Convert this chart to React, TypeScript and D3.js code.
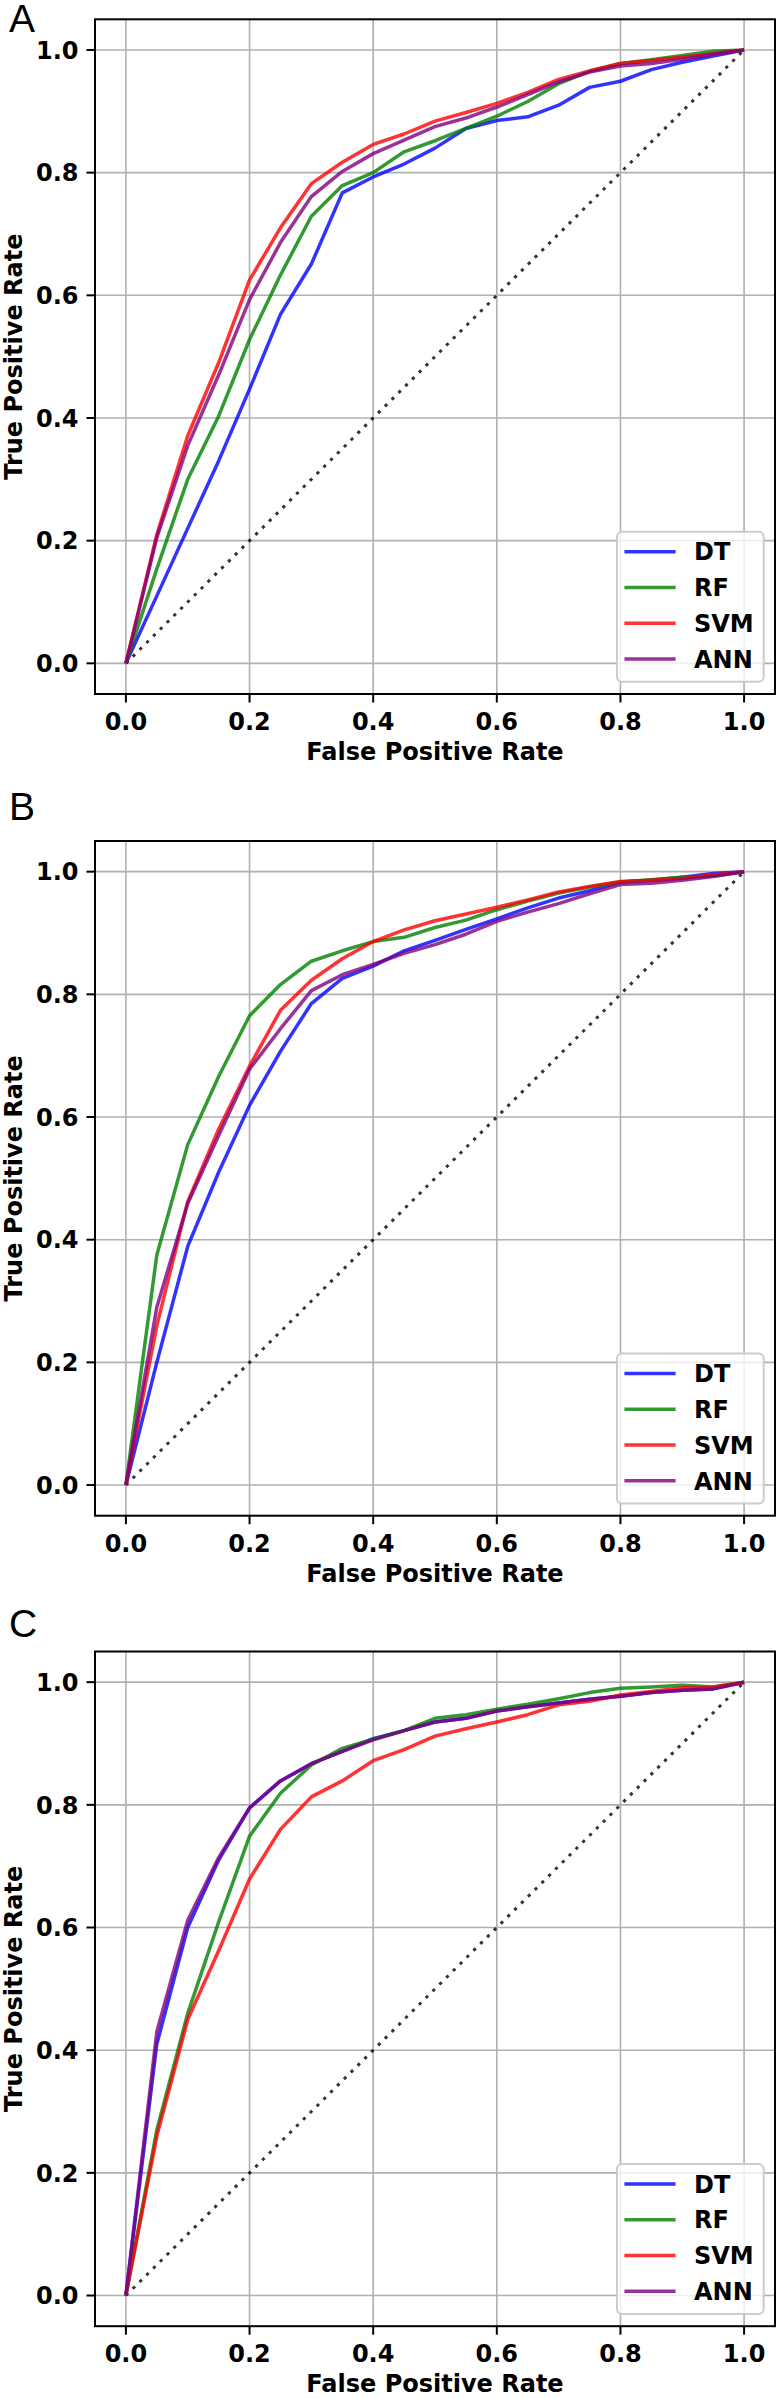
import React from "react";
import * as d3 from "d3";

// ROC curves sampled every 0.05 of false positive rate
const FPR = [0, 0.05, 0.1, 0.15, 0.2, 0.25, 0.3, 0.35, 0.4, 0.45, 0.5, 0.55, 0.6, 0.65, 0.7, 0.75, 0.8, 0.85, 0.9, 0.95, 1.0];

const MODELS = ["DT", "RF", "SVM", "ANN"];
const COLORS = ["#0000ff", "#008000", "#ff0000", "#800080"];

const A_DT = [0, 0.11, 0.22, 0.33, 0.447, 0.569, 0.651, 0.767, 0.793, 0.814, 0.84, 0.872, 0.885, 0.891, 0.91, 0.939, 0.949, 0.968, 0.98, 0.99, 1.0];
const A_RF = [0, 0.154, 0.3, 0.403, 0.528, 0.633, 0.729, 0.779, 0.8, 0.834, 0.852, 0.872, 0.892, 0.916, 0.945, 0.965, 0.978, 0.984, 0.991, 0.998, 1.0];
const A_SVM = [0, 0.21, 0.371, 0.49, 0.625, 0.71, 0.782, 0.817, 0.846, 0.863, 0.884, 0.898, 0.913, 0.931, 0.952, 0.966, 0.978, 0.983, 0.988, 0.994, 1.0];
const A_ANN = [0, 0.205, 0.355, 0.47, 0.593, 0.686, 0.761, 0.802, 0.831, 0.853, 0.875, 0.889, 0.907, 0.927, 0.948, 0.964, 0.974, 0.978, 0.985, 0.993, 1.0];

const B_DT = [0, 0.2, 0.389, 0.51, 0.619, 0.707, 0.785, 0.826, 0.846, 0.871, 0.888, 0.906, 0.923, 0.941, 0.957, 0.969, 0.983, 0.986, 0.991, 0.997, 1.0];
const B_RF = [0, 0.375, 0.555, 0.666, 0.765, 0.816, 0.854, 0.871, 0.886, 0.893, 0.909, 0.921, 0.938, 0.952, 0.965, 0.975, 0.983, 0.987, 0.991, 0.993, 1.0];
const B_SVM = [0, 0.26, 0.462, 0.58, 0.683, 0.774, 0.823, 0.858, 0.886, 0.905, 0.92, 0.931, 0.942, 0.954, 0.967, 0.976, 0.984, 0.986, 0.989, 0.995, 1.0];
const B_ANN = [0, 0.29, 0.459, 0.57, 0.678, 0.744, 0.806, 0.832, 0.849, 0.867, 0.881, 0.898, 0.919, 0.934, 0.948, 0.964, 0.979, 0.981, 0.986, 0.992, 1.0];

const C_DT = [0, 0.41, 0.6, 0.71, 0.795, 0.839, 0.867, 0.887, 0.908, 0.921, 0.935, 0.941, 0.953, 0.96, 0.966, 0.972, 0.977, 0.983, 0.987, 0.989, 1.0];
const C_RF = [0, 0.27, 0.46, 0.609, 0.749, 0.819, 0.865, 0.892, 0.907, 0.921, 0.941, 0.947, 0.956, 0.964, 0.973, 0.983, 0.99, 0.992, 0.995, 0.992, 1.0];
const C_SVM = [0, 0.26, 0.45, 0.562, 0.679, 0.76, 0.813, 0.839, 0.872, 0.89, 0.912, 0.924, 0.935, 0.947, 0.963, 0.969, 0.979, 0.985, 0.991, 0.992, 1.0];
const C_ANN = [0, 0.43, 0.612, 0.714, 0.795, 0.839, 0.867, 0.887, 0.906, 0.921, 0.935, 0.941, 0.953, 0.96, 0.966, 0.972, 0.977, 0.983, 0.987, 0.989, 1.0];

const TICKS = [0, 0.2, 0.4, 0.6, 0.8, 1.0];
const PANEL_LABELS = ["A", "B", "C"];
const PANEL_SERIES = [
  [A_DT, A_RF, A_SVM, A_ANN],
  [B_DT, B_RF, B_SVM, B_ANN],
  [C_DT, C_RF, C_SVM, C_ANN],
];

const W = 778;
const H = 2398;
const FONT = "'DejaVu Sans', sans-serif";
const FS = 24;

// frame placement of each stacked panel
const PANEL_TOPS = [19.3, 841, 1651.5];
const LETTER_BASE = [32, 820, 1637];
const FRAME_LEFT = 95;
const FRAME_W = 680;
const FRAME_H = 674.7;

const fmt = d3.format(".1f");

function Panel({ index }: { index: number }) {
  const top = PANEL_TOPS[index];
  const bottom = top + FRAME_H;
  const right = FRAME_LEFT + FRAME_W;
  const x = d3.scaleLinear().domain([-0.05, 1.05]).range([FRAME_LEFT, right]);
  const y = d3.scaleLinear().domain([-0.05, 1.05]).range([bottom, top]);
  const line = d3
    .line<number>()
    .x((_, i) => x(FPR[i]))
    .y((d) => y(d));

  const series = PANEL_SERIES[index];

  // legend box, anchored in the lower right corner
  const legW = 146.7;
  const legH = 150;
  const legX = right - 11.3 - legW;
  const legY = bottom - 12.3 - legH;

  return (
    <g>
      <text x={9} y={LETTER_BASE[index]} fontFamily="'Liberation Sans', sans-serif" fontSize={39}>
        {PANEL_LABELS[index]}
      </text>

      {/* grid */}
      {TICKS.map((t) => (
        <line key={"gx" + t} x1={x(t)} x2={x(t)} y1={top} y2={bottom} stroke="#b0b0b0" strokeWidth={1.6} />
      ))}
      {TICKS.map((t) => (
        <line key={"gy" + t} x1={FRAME_LEFT} x2={right} y1={y(t)} y2={y(t)} stroke="#b0b0b0" strokeWidth={1.6} />
      ))}

      {/* chance diagonal */}
      <line
        x1={x(0)}
        y1={y(0)}
        x2={x(1)}
        y2={y(1)}
        stroke="#000"
        strokeOpacity={0.8}
        strokeWidth={3}
        strokeDasharray="3.2 6.4"
      />

      {series.map((vals, i) => (
        <path
          key={MODELS[i]}
          d={line(vals) || ""}
          fill="none"
          stroke={COLORS[i]}
          strokeOpacity={0.8}
          strokeWidth={3.5}
          strokeLinejoin="round"
        />
      ))}

      {/* frame */}
      <rect x={FRAME_LEFT} y={top} width={FRAME_W} height={FRAME_H} fill="none" stroke="#000" strokeWidth={2} />

      {/* ticks */}
      {TICKS.map((t) => (
        <g key={"tx" + t}>
          <line x1={x(t)} x2={x(t)} y1={bottom} y2={bottom + 8.5} stroke="#000" strokeWidth={2} />
          <text
            x={x(t)}
            y={bottom + 36}
            textAnchor="middle"
            fontFamily={FONT}
            fontWeight="bold"
            fontSize={FS}
          >
            {fmt(t)}
          </text>
        </g>
      ))}
      {TICKS.map((t) => (
        <g key={"ty" + t}>
          <line x1={FRAME_LEFT - 8.5} x2={FRAME_LEFT} y1={y(t)} y2={y(t)} stroke="#000" strokeWidth={2} />
          <text
            x={78.5}
            y={y(t) + 8.7}
            textAnchor="end"
            fontFamily={FONT}
            fontWeight="bold"
            fontSize={FS}
          >
            {fmt(t)}
          </text>
        </g>
      ))}

      <text
        x={(FRAME_LEFT + right) / 2}
        y={bottom + 66}
        textAnchor="middle"
        fontFamily={FONT}
        fontWeight="bold"
        fontSize={FS}
      >
        False Positive Rate
      </text>
      <text
        transform={`translate(21.5, ${(top + bottom) / 2}) rotate(-90)`}
        textAnchor="middle"
        fontFamily={FONT}
        fontWeight="bold"
        fontSize={FS}
      >
        True Positive Rate
      </text>

      {/* legend */}
      <rect
        x={legX}
        y={legY}
        width={legW}
        height={legH}
        rx={5}
        fill="#fff"
        fillOpacity={0.8}
        stroke="#cccccc"
        strokeWidth={2}
      />
      {MODELS.map((m, i) => {
        const ly = legY + 20 + i * 35.8;
        return (
          <g key={"lg" + m}>
            <line
              x1={legX + 7.4}
              x2={legX + 58.6}
              y1={ly}
              y2={ly}
              stroke={COLORS[i]}
              strokeOpacity={0.8}
              strokeWidth={3.5}
            />
            <text x={legX + 77} y={ly + 8.7} fontFamily={FONT} fontWeight="bold" fontSize={FS}>
              {m}
            </text>
          </g>
        );
      })}
    </g>
  );
}

export default function App() {
  return (
    <svg
      width={W}
      height={H}
      viewBox={`0 0 ${W} ${H}`}
      style={{ position: "absolute", left: 0, top: 0, background: "#fff" }}
    >
      <rect width={W} height={H} fill="#fff" />
      {PANEL_LABELS.map((_, i) => (
        <Panel key={i} index={i} />
      ))}
    </svg>
  );
}
